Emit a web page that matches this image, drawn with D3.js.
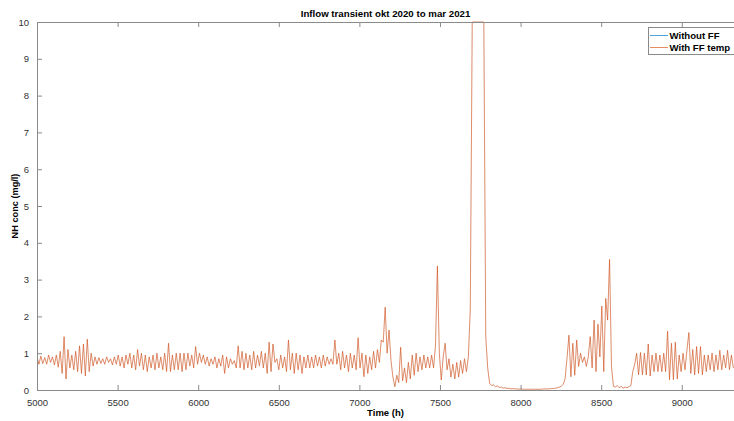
<!DOCTYPE html>
<html>
<head>
<meta charset="utf-8">
<script src="https://cdn.jsdelivr.net/npm/d3@7"></script>
<style>
  html, body { margin: 0; padding: 0; background: #fff; }
  svg { display: block; font-family: "Liberation Sans", Arial, Helvetica, sans-serif; }
</style>
</head>
<body>
<svg id="chart" width="734" height="421"></svg>
<script>
// ---- data (12 h spacing starting at 5000 h) ----
const titleText = "Inflow transient okt 2020 to mar 2021";
const xLabel = "Time (h)";
const yLabel = "NH conc (mg/l)";
const seriesNames = ["Without FF", "With FF temp"];
const xTicks = [5000, 5500, 6000, 6500, 7000, 7500, 8000, 8500, 9000];
const yTicks = [0, 1, 2, 3, 4, 5, 6, 7, 8, 9, 10];
const timeStart = 5000;
const timeStep = 12;
const withFF = [
  // 5000-5500
  0.9,0.7,0.92,0.72,0.88,0.7,0.95,0.75,0.9,0.68,
  0.95,0.62,1.05,0.45,1.45,0.3,1.1,0.6,0.95,0.55,
  1.05,0.5,1.2,0.45,1.25,0.38,1.38,0.5,1.0,0.65,
  0.9,0.7,0.88,0.72,0.85,0.7,0.9,0.75,0.85,0.68,0.9,0.7,
  // 5500-6000
  0.95,0.65,0.9,0.6,0.95,0.7,1.0,0.6,0.95,0.55,
  1.1,0.65,1.0,0.55,0.95,0.5,0.9,0.6,0.95,0.55,
  1.0,0.6,0.9,0.55,1.0,0.5,1.27,0.5,0.95,0.55,
  1.0,0.55,1.0,0.5,1.0,0.55,1.0,0.65,0.95,0.6,1.18,0.7,
  // 6000-6500
  1.0,0.75,0.95,0.7,0.9,0.65,0.85,0.7,0.9,0.6,
  0.85,0.65,0.95,0.45,0.9,0.6,0.85,0.7,0.8,0.6,
  1.2,0.6,1.05,0.55,1.0,0.6,0.95,0.55,1.05,0.6,
  0.95,0.65,1.05,0.6,1.0,0.45,1.3,0.5,1.25,0.75,0.85,
  // 6500-7000
  0.55,0.95,0.6,0.9,0.5,1.36,0.55,1.0,0.45,1.0,
  0.55,0.95,0.45,0.9,0.6,0.95,0.6,0.9,0.6,0.95,
  0.65,0.9,0.6,0.95,0.65,0.9,0.7,0.85,0.7,1.36,
  0.7,1.0,0.55,1.05,0.6,0.95,0.5,1.0,0.6,0.95,0.55,1.42,
  // 7000-7820
  0.6,1.0,0.36,0.95,0.45,0.9,0.55,1.05,0.6,1.1,
  0.75,1.36,1.3,2.25,1.0,1.63,0.8,0.35,0.09,0.4,
  0.2,1.16,0.25,0.6,0.2,0.75,0.3,0.95,0.4,1.0,
  0.5,0.9,0.55,0.95,0.6,0.9,0.6,0.95,0.6,1.2,
  3.37,1.0,0.27,0.9,1.27,0.55,0.85,0.35,0.7,0.3,
  0.75,0.35,0.8,0.45,0.85,0.5,0.9,2.2,10,10,
  10,10,10,10,10,1.45,0.6,0.18,
  // 7820-8290
  0.12,0.14,0.09,0.11,0.07,0.08,0.05,0.06,0.04,0.05,
  0.03,0.04,0.03,0.03,0.02,0.03,0.02,0.02,0.02,0.02,
  0.02,0.02,0.02,0.02,0.02,0.02,0.02,0.03,0.03,0.03,
  0.03,0.04,0.04,0.05,0.06,0.08,0.1,0.15,0.3,
  // 8288-8710
  0.86,1.49,0.36,1.27,0.4,1.36,0.64,1.0,0.75,0.9,
  0.64,0.9,1.45,0.6,1.9,0.5,1.79,0.9,2.28,0.5,
  2.49,1.9,3.55,0.64,0.1,0.08,0.12,0.06,0.1,0.05,
  0.08,0.06,0.09,0.12,0.5,0.7,
  // 8720-9320
  1.0,0.41,1.02,0.41,1.0,0.41,1.25,0.38,0.95,0.5,
  1.0,0.5,0.95,0.5,1.0,0.5,1.6,0.28,1.27,0.28,
  1.3,0.3,0.95,0.5,1.0,0.55,1.08,1.56,0.45,1.1,
  0.41,1.18,0.45,1.18,0.41,0.95,0.5,0.95,0.55,1.0,
  0.5,0.95,0.55,1.08,0.55,0.95,0.6,1.08,0.55,0.95,0.6
];
const withoutFF = withFF.slice(); // the blue series lies under the orange one
const seriesColors = ["#0072BD", "#D95319"];
const seriesWidths = [0.25, 0.75];

// ---- layout ----
const svg = d3.select("#chart");
const margin = { left: 37, right: 0, top: 22, bottom: 31 };
const W = 734, H = 421;
const x = d3.scaleLinear().domain([5000, 9324]).range([margin.left, W - margin.right]);
const y = d3.scaleLinear().domain([0, 10]).range([H - margin.bottom, margin.top]);

const toPts = arr => arr.map((v, i) => [timeStart + i * timeStep, v]);
const line = d3.line().x(d => x(d[0])).y(d => y(d[1]));

svg.append("defs").append("clipPath").attr("id", "clip")
  .append("rect").attr("x", margin.left).attr("y", margin.top - 1)
  .attr("width", W - margin.left).attr("height", H - margin.bottom - margin.top + 1);

const g = svg.append("g").attr("clip-path", "url(#clip)");
[withoutFF, withFF].forEach((arr, k) => {
  g.append("path").datum(toPts(arr))
    .attr("fill", "none")
    .attr("stroke", seriesColors[k])
    .attr("stroke-width", seriesWidths[k])
    .attr("stroke-opacity", k === 0 ? 0.3 : 0.85)
    .attr("stroke-linejoin", "round")
    .attr("d", line);
});

// axes (MATLAB style, ticks inward)
const axisColor = "#8a8a8a";
const labelColor = "#333";
const xAxis = svg.append("g").attr("transform", `translate(0,${y(0)})`)
  .call(d3.axisBottom(x).tickValues(xTicks).tickSize(-5).tickPadding(9).tickFormat(d3.format("d")));
const xTop = svg.append("g").attr("transform", `translate(0,${y(10)})`)
  .call(d3.axisTop(x).tickValues(xTicks).tickSize(-5).tickFormat(""));
const yAxis = svg.append("g").attr("transform", `translate(${x(5000)},0)`)
  .call(d3.axisLeft(y).tickValues(yTicks).tickSize(-5).tickPadding(8).tickFormat(d3.format("d")));
[xAxis, xTop, yAxis].forEach(a => {
  a.select(".domain").attr("stroke", axisColor).attr("stroke-width", 1);
  a.selectAll(".tick line").attr("stroke", axisColor);
  a.selectAll(".tick text").attr("fill", labelColor).style("font-size", "9.5px");
});

// title & labels
svg.append("text").attr("x", (x(5000) + W) / 2).attr("y", 17)
  .attr("text-anchor", "middle").style("font-weight", "bold").style("font-size", "9.7px")
  .attr("fill", "#000").text(titleText);
svg.append("text").attr("x", (x(5000) + W) / 2).attr("y", 416)
  .attr("text-anchor", "middle").style("font-weight", "bold").style("font-size", "9.5px")
  .attr("fill", "#000").text(xLabel);
svg.append("text").attr("transform", `translate(18,${(y(0) + y(10)) / 2}) rotate(-90)`)
  .attr("text-anchor", "middle").style("font-weight", "bold").style("font-size", "9.2px")
  .attr("fill", "#000").text(yLabel);

// legend
const legendLineColors = ["#4da3dc", "#e88a62"];
const lg = svg.append("g").attr("transform", "translate(648,27)");
lg.append("rect").attr("x", 0.5).attr("y", 0.5).attr("width", 90).attr("height", 27)
  .attr("fill", "#fff").attr("stroke", "#8a8a8a").attr("stroke-width", 1);
seriesNames.forEach((name, k) => {
  const cy = 8.5 + k * 12;
  lg.append("line").attr("x1", 2).attr("x2", 20).attr("y1", cy).attr("y2", cy)
    .attr("stroke", legendLineColors[k]).attr("stroke-width", 1);
  lg.append("text").attr("x", 21.5).attr("y", cy + 3.5).style("font-weight", "bold")
    .style("font-size", "9.6px").attr("fill", "#000").text(name);
});
</script>
</body>
</html>
